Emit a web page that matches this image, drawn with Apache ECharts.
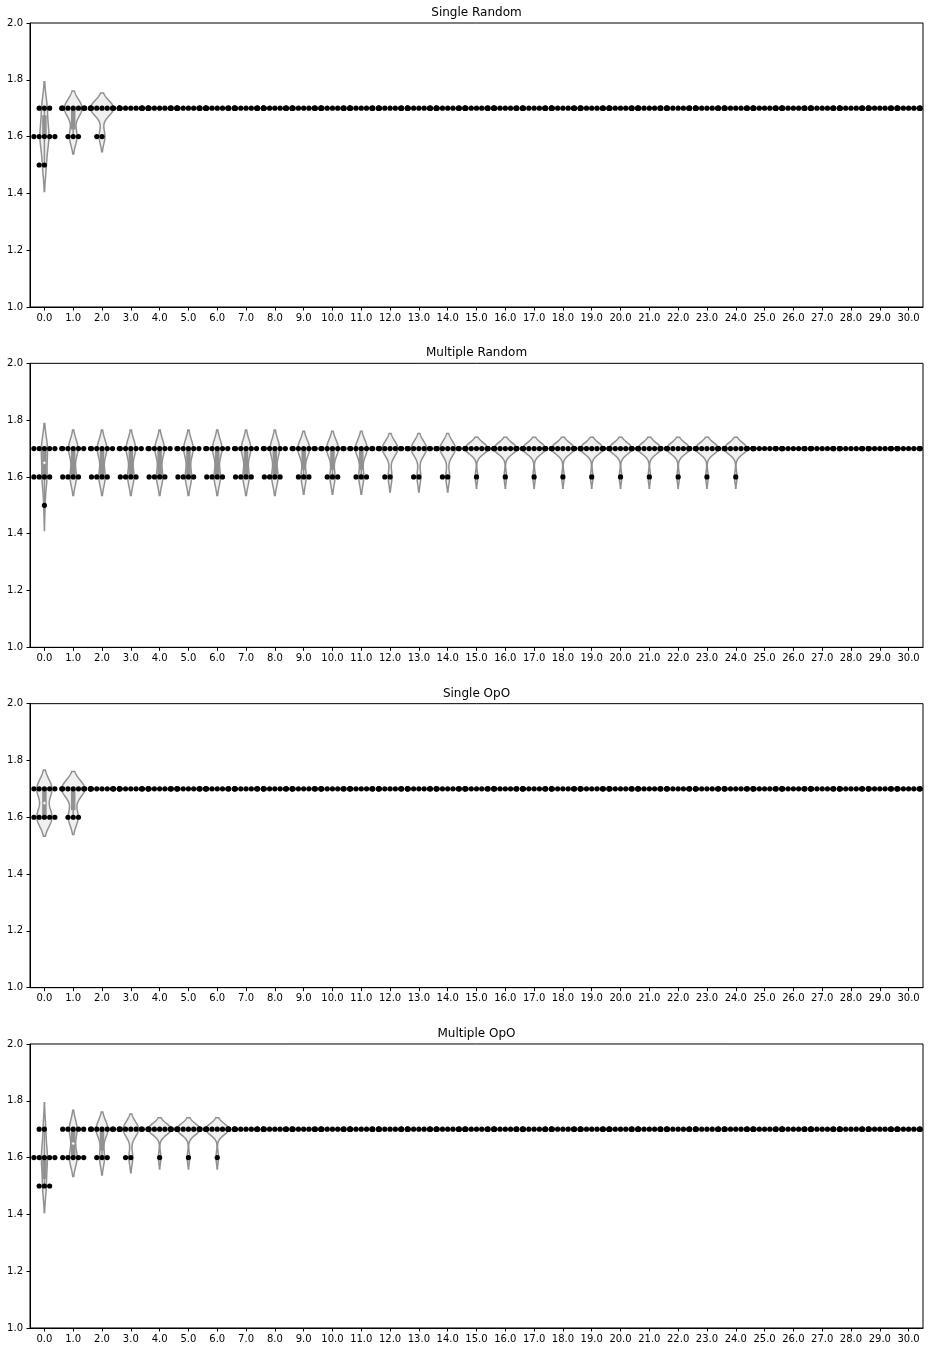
<!DOCTYPE html>
<html><head><meta charset="utf-8">
<script src="https://cdn.jsdelivr.net/npm/echarts@6/dist/echarts.min.js"></script>
<style>html,body{margin:0;padding:0;background:#fff}#c{width:930px;height:1352px}</style>
</head><body><div id="c"></div>
<script>
// ---------------- data ----------------
const categories = ['0.0','1.0','2.0','3.0','4.0','5.0','6.0','7.0','8.0','9.0','10.0','11.0','12.0','13.0','14.0','15.0','16.0','17.0','18.0','19.0','20.0','21.0','22.0','23.0','24.0','25.0','26.0','27.0','28.0','29.0','30.0'];
const panelTitles = ['Single Random','Multiple Random','Single OpO','Multiple OpO'];
const yTickLabels = ['1.0','1.2','1.4','1.6','1.8','2.0'];
const levels = [1.5, 1.6, 1.7];

// number of observations at each level, per category
const singleRandom17 = [3,7,8,10,10,10,10,10,10,10,10,10,10,10,10,10,10,10,10,10,10,10,10,10,10,10,10,10,10,10,10];
const singleRandom16 = [5,3,2,0,0,0,0,0,0,0,0,0,0,0,0,0,0,0,0,0,0,0,0,0,0,0,0,0,0,0,0];
const singleRandom15 = [2,0,0,0,0,0,0,0,0,0,0,0,0,0,0,0,0,0,0,0,0,0,0,0,0,0,0,0,0,0,0];

const multipleRandom17 = [5,6,6,6,6,6,6,6,6,7,7,7,8,8,8,9,9,9,9,9,9,9,9,9,9,10,10,10,10,10,10];
const multipleRandom16 = [4,4,4,4,4,4,4,4,4,3,3,3,2,2,2,1,1,1,1,1,1,1,1,1,1,0,0,0,0,0,0];
const multipleRandom15 = [1,0,0,0,0,0,0,0,0,0,0,0,0,0,0,0,0,0,0,0,0,0,0,0,0,0,0,0,0,0,0];

const singleOpO17 = [5,7,10,10,10,10,10,10,10,10,10,10,10,10,10,10,10,10,10,10,10,10,10,10,10,10,10,10,10,10,10];
const singleOpO16 = [5,3,0,0,0,0,0,0,0,0,0,0,0,0,0,0,0,0,0,0,0,0,0,0,0,0,0,0,0,0,0];
const singleOpO15 = [0,0,0,0,0,0,0,0,0,0,0,0,0,0,0,0,0,0,0,0,0,0,0,0,0,0,0,0,0,0,0];

const multipleOpO17 = [2,5,7,8,9,9,9,10,10,10,10,10,10,10,10,10,10,10,10,10,10,10,10,10,10,10,10,10,10,10,10];
const multipleOpO16 = [5,5,3,2,1,1,1,0,0,0,0,0,0,0,0,0,0,0,0,0,0,0,0,0,0,0,0,0,0,0,0];
const multipleOpO15 = [3,0,0,0,0,0,0,0,0,0,0,0,0,0,0,0,0,0,0,0,0,0,0,0,0,0,0,0,0,0,0];

const panelCounts = [
  [singleRandom15, singleRandom16, singleRandom17],
  [multipleRandom15, multipleRandom16, multipleRandom17],
  [singleOpO15, singleOpO16, singleOpO17],
  [multipleOpO15, multipleOpO16, multipleOpO17]
];

// ---------------- layout / style ----------------
const GRID_LEFT = 30, GRID_RIGHT = 7, GRID_H = 284, FIRST_TOP = 23, STEP = 340.33;
const FILL = '#f0f0f0', GRAY = '#919191', FONT = 'DejaVu Sans';
const DOT_R = 2.6, DOT_STEP = 5.25;

// ---------------- stats helpers ----------------
function valuesFor(counts, ci) {
  const vals = [];
  levels.forEach((lv, li) => { for (let k = 0; k < counts[li][ci]; k++) vals.push(lv); });
  return vals.sort((a, b) => a - b);
}
function pct(s, p) {
  const idx = p * (s.length - 1), lo = Math.floor(idx), hi = Math.ceil(idx);
  return s[lo] + (s[hi] - s[lo]) * (idx - lo);
}
function violinOf(vals) {
  const uniq = Array.from(new Set(vals));
  if (uniq.length === 1) return { single: true, value: uniq[0] };
  const n = vals.length;
  const mean = vals.reduce((a, b) => a + b, 0) / n;
  const sd = Math.sqrt(vals.reduce((a, v) => a + (v - mean) * (v - mean), 0) / (n - 1));
  const bw = Math.pow(n, -0.2) * sd;
  const lo = vals[0] - 2 * bw, hi = vals[n - 1] + 2 * bw;
  const support = [], dens = [];
  let maxD = 0;
  for (let i = 0; i < 100; i++) {
    const y = lo + (hi - lo) * i / 99;
    let d = 0;
    vals.forEach(v => { const z = (y - v) / bw; d += Math.exp(-0.5 * z * z); });
    d /= n * bw * Math.sqrt(2 * Math.PI);
    support.push(y); dens.push(d); if (d > maxD) maxD = d;
  }
  const q25 = pct(vals, 0.25), q50 = pct(vals, 0.5), q75 = pct(vals, 0.75);
  const lim = 1.5 * (q75 - q25);
  const h1 = Math.min(...vals.filter(v => v >= q25 - lim - 1e-9));
  const h2 = Math.max(...vals.filter(v => v <= q75 + lim + 1e-9));
  return { single: false, support, dens, maxD, q25, q50, q75, h1, h2 };
}

const option = { animation: false, backgroundColor: '#fff', title: [], grid: [], xAxis: [], yAxis: [], series: [] };

panelCounts.forEach((counts, p) => {
  const top = FIRST_TOP + STEP * p;
  option.title.push({
    text: panelTitles[p], left: GRID_LEFT + (930 - GRID_LEFT - GRID_RIGHT) / 2, top: top - 16,
    textAlign: 'center', padding: 0,
    textStyle: { fontFamily: FONT, fontSize: 12, fontWeight: 'normal', color: '#000' }
  });
  option.grid.push({ left: GRID_LEFT, right: GRID_RIGHT, top: top, height: GRID_H, show: true, borderColor: '#000', borderWidth: 1, backgroundColor: 'transparent' });
  option.xAxis.push({
    type: 'category', gridIndex: p, data: categories, boundaryGap: true,
    axisLine: { show: true, lineStyle: { color: '#000', width: 1 } },
    axisTick: { show: true, alignWithLabel: true, length: 3.5, lineStyle: { color: '#000' } },
    axisLabel: { interval: 0, margin: 6, fontFamily: FONT, fontSize: 10, color: '#000' },
    splitLine: { show: false }
  });
  option.yAxis.push({
    type: 'value', gridIndex: p, min: 1.0, max: 2.0, interval: 0.2,
    axisLine: { show: true, lineStyle: { color: '#000', width: 1 } },
    axisTick: { show: true, length: 3.5, lineStyle: { color: '#000' } },
    axisLabel: { margin: 7, fontFamily: FONT, fontSize: 10, color: '#000',
      formatter: v => yTickLabels[Math.round((v - 1.0) / 0.2)] },
    splitLine: { show: false }
  });

  const violins = categories.map((c, ci) => violinOf(valuesFor(counts, ci)));
  const globalMax = Math.max(...violins.filter(v => !v.single).map(v => v.maxD));

  option.series.push({
    type: 'custom', xAxisIndex: p, yAxisIndex: p, z: 2, silent: true,
    data: categories.map((c, ci) => [ci, 1.7]),
    encode: { x: 0, y: 1 },
    renderItem: function (params, api) {
      const ci = api.value(0);
      const v = violins[ci];
      const band = api.size([1, 0])[0];
      const half = 0.4 * band;
      const cx = api.coord([ci, 1.7])[0];
      const children = [];
      if (v.single) {
        const y = api.coord([ci, v.value])[1];
        children.push({ type: 'line', shape: { x1: cx - half, y1: y, x2: cx + half, y2: y }, style: { stroke: GRAY, lineWidth: 1.5 } });
      } else {
        const left = [], right = [];
        for (let i = 0; i < v.support.length; i++) {
          const y = api.coord([ci, v.support[i]])[1];
          const w = half * v.dens[i] / globalMax;
          left.push([cx - w, y]); right.push([cx + w, y]);
        }
        const pts = left.concat(right.reverse());
        children.push({ type: 'polygon', shape: { points: pts }, style: { fill: FILL, stroke: GRAY, lineWidth: 1.5 } });
        const yh1 = api.coord([ci, v.h1])[1], yh2 = api.coord([ci, v.h2])[1];
        const y25 = api.coord([ci, v.q25])[1], y75 = api.coord([ci, v.q75])[1];
        const y50 = api.coord([ci, v.q50])[1];
        children.push({ type: 'line', shape: { x1: cx, y1: yh1, x2: cx, y2: yh2 }, style: { stroke: GRAY, lineWidth: 1.5 } });
        children.push({ type: 'line', shape: { x1: cx, y1: y25, x2: cx, y2: y75 }, style: { stroke: GRAY, lineWidth: 4.5 } });
        children.push({ type: 'circle', shape: { cx: cx, cy: y50, r: 1.5 }, style: { fill: '#fff', stroke: GRAY, lineWidth: 0.5 } });
      }
      return { type: 'group', children };
    }
  });

  // swarm points
  const dots = [];
  categories.forEach((c, ci) => {
    levels.forEach((lv, li) => {
      const n = counts[li][ci];
      for (let k = 0; k < n; k++) {
        const slot = k === 0 ? 0 : (k % 2 === 1 ? -(k + 1) / 2 : k / 2);
        dots.push([ci, lv, slot]);
      }
    });
  });
  option.series.push({
    type: 'custom', xAxisIndex: p, yAxisIndex: p, z: 5, silent: true,
    data: dots, encode: { x: 0, y: 1 },
    renderItem: function (params, api) {
      const pt = api.coord([api.value(0), api.value(1)]);
      const half = 0.4 * api.size([1, 0])[0];
      let off = api.value(2) * DOT_STEP;
      off = Math.max(-half, Math.min(half, off));
      return { type: 'circle', shape: { cx: pt[0] + off, cy: pt[1], r: DOT_R }, style: { fill: '#000' } };
    }
  });
});

const chart = echarts.init(document.getElementById('c'), null, { renderer: 'canvas' });
chart.setOption(option);
</script>
</body></html>
